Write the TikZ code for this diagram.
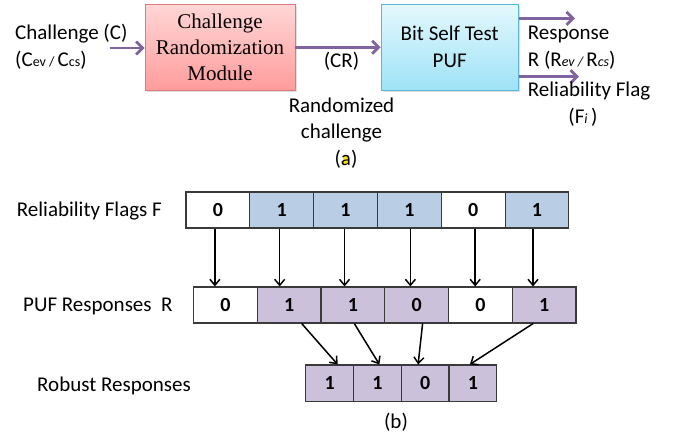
\documentclass[tikz,border=0pt]{standalone}
\usepackage{fontspec}
\setmainfont{Carlito}
\newfontfamily\boxserif{Liberation Serif}
\usetikzlibrary{arrows.meta,shadows,calc}
\definecolor{flowpurple}{HTML}{8064A2}
\definecolor{redtop}{HTML}{FFD6D6}
\definecolor{redbot}{HTML}{FF9C9C}
\definecolor{redline}{HTML}{E07A7A}
\definecolor{bluetop}{HTML}{E4F8FD}
\definecolor{bluebot}{HTML}{9EE3F7}
\definecolor{blueline}{HTML}{5AB6D6}
\definecolor{flagblue}{HTML}{B9CDE5}
\definecolor{resppurple}{HTML}{CCC1DA}
\definecolor{cellline}{HTML}{3A3A3A}
\definecolor{hiyellow}{HTML}{FFE400}
\begin{document}
\begin{tikzpicture}[x=1pt,y=-1pt,
  lbl/.style={font=\fontsize{21}{26}\selectfont, inner sep=0pt, anchor=base west},
  clbl/.style={font=\fontsize{21}{26}\selectfont, inner sep=0pt, anchor=base},
  cellbox/.style={draw=cellline, line width=1.1pt, minimum height=36pt, inner sep=0pt,
     font=\fontsize{20}{20}\selectfont\bfseries},
  fcell/.style={cellbox, minimum width=63.8pt},
  rcell/.style={cellbox, minimum width=63.75pt},
  ocell/.style={cellbox, minimum width=47.75pt, minimum height=36.7pt, fill=resppurple},
  flow/.style={draw=flowpurple, line width=2.8pt, -{Straight Barb[length=6.5pt,width=13pt]}},
  link/.style={draw=black, line width=1.5pt, -{Straight Barb[length=6pt,width=10pt]}},
  modbox/.style={minimum height=85.7pt, inner sep=0pt, align=center,
     drop shadow={opacity=0.25, shadow xshift=1.5pt, shadow yshift=-1.5pt}}
]
\useasboundingbox (0,0) rectangle (678,433);

% ---------- part (a) ----------
\node[modbox, minimum width=150pt, draw=redline, line width=0.9pt,
      top color=redtop, bottom color=redbot,
      font=\boxserif\fontsize{21}{26.3}\selectfont] (crm) at (220,47.2)
      {Challenge\\Randomization\\Module};
\node[modbox, minimum width=137.3pt, draw=blueline, line width=0.9pt,
      top color=bluetop, bottom color=bluebot,
      font=\fontsize{21}{27}\selectfont] (puf) at (449.7,47.2)
      {Bit Self Test\\PUF};

\node[lbl] (chal) at (15,39.5) {Challenge (C)};
\node[lbl] (chalsub) at (15,67) {(C{\fontsize{14}{14}\selectfont ev / }C{\fontsize{14}{14}\selectfont cs})};
\coordinate (cin) at (110,48);
\draw[flow] (cin) -- (crm.west |- cin);
\draw[flow] (crm.east) -- (puf.west);

\node[clbl] (cr) at (341.5,67.5) {(CR)};
\node[clbl] (rand1) at (341.5,112.7) {Randomized};
\node[clbl] (rand2) at (341.5,138.5) {challenge};
\fill[hiyellow] (343,156.5) rectangle (346.5,165);
\node[clbl] (capa) at (346,166) {(a)};

\coordinate (out1) at (575,18.3);
\coordinate (out2) at (579,76.7);
\draw[flow] (puf.east |- out1) -- (out1);
\draw[flow] (puf.east |- out2) -- (out2);
\node[lbl] (resp1) at (527.7,39.3) {Response};
\node[lbl] (resp2) at (527.7,66.7) {R (R{\fontsize{14}{14}\selectfont\itshape ev / }R{\fontsize{14}{14}\selectfont\itshape cs})};
\node[lbl] (flag1) at (527.7,96.7) {Reliability Flag};
\node[clbl] (flag2) at (583,124) {(F{\fontsize{14}{14}\selectfont\itshape i}\,)};

% ---------- part (b) ----------
\node[lbl] (lf) at (16.7,216.7) {Reliability Flags F};
\node[lbl] (lr) at (23,311.7) {PUF Responses\ \ R};
\node[lbl] (lo) at (37,391.7) {Robust Responses};

\node[fcell, fill=white]    (f1) at (217.9,210) {0};
\node[fcell, fill=flagblue] (f2) at (281.7,210) {1};
\node[fcell, fill=flagblue] (f3) at (345.5,210) {1};
\node[fcell, fill=flagblue] (f4) at (409.4,210) {1};
\node[fcell, fill=white]    (f5) at (473.2,210) {0};
\node[fcell, fill=flagblue] (f6) at (537.0,210) {1};

\node[rcell, fill=white]      (r1) at (225.4,305) {0};
\node[rcell, fill=resppurple] (r2) at (289.1,305) {1};
\node[rcell, fill=resppurple] (r3) at (352.9,305) {1};
\node[rcell, fill=resppurple] (r4) at (416.6,305) {0};
\node[rcell, fill=white]      (r5) at (480.4,305) {0};
\node[rcell, fill=resppurple] (r6) at (544.1,305) {1};

\node[ocell] (o1) at (329.6,383.3) {1};
\node[ocell] (o2) at (377.4,383.3) {1};
\node[ocell] (o3) at (425.1,383.3) {0};
\node[ocell] (o4) at (472.9,383.3) {1};

\foreach \i/\dx in {1/-3,2/-2,3/-1,4/1,5/2,6/-4}{
  \coordinate (fs\i) at ($(f\i.south)+(\dx,0)$);
  \draw[link] (fs\i) -- (fs\i |- r\i.north);
}
\draw[link] ($(r2.south)+(12.6,0)$) -- ($(o1.north)+(8,0)$);
\draw[link] ($(r3.south)+(1.4,0)$) -- ($(o2.north)+(2,0)$);
\draw[link] ($(r4.south)+(6,0)$) -- ($(o3.north)+(-7,0)$);
\draw[link] ($(r6.south)+(-11,0)$) -- ($(o4.north)+(-3,0)$);

\node[clbl] (capb) at (396,428.3) {(b)};
\end{tikzpicture}
\end{document}
